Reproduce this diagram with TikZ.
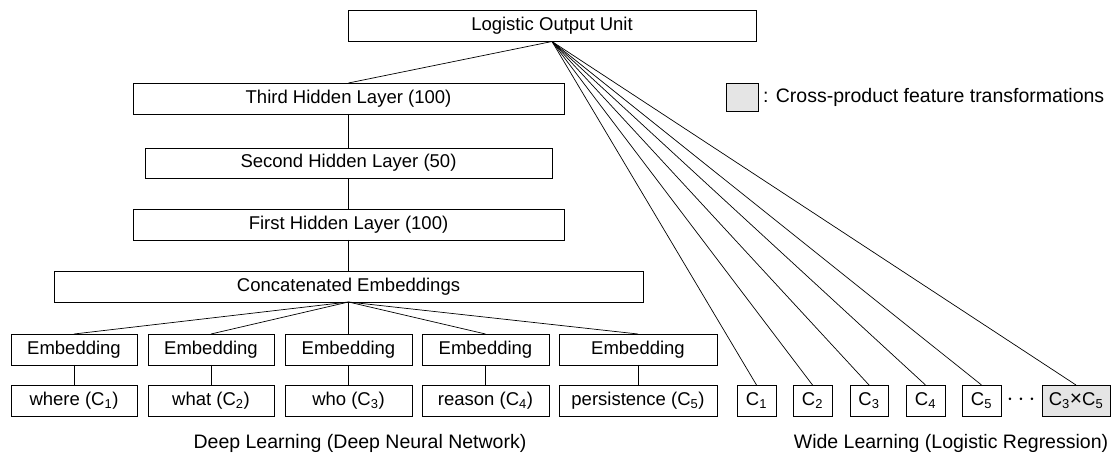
\documentclass[tikz,border=0pt]{standalone}
\usepackage{fontspec}
\setmainfont{Liberation Sans}
\newcommand{\boxfont}{\fontsize{18.5bp}{22bp}\selectfont}
\newcommand{\labfont}{\fontsize{19.5bp}{23bp}\selectfont}
\begin{document}
\begin{tikzpicture}[x=1bp,y=-1bp,
  box/.style={draw, line width=0.8bp, inner sep=0pt, outer sep=0pt, minimum height=31bp, font=\boxfont},
  crossbox/.style={box, fill=black!10},
  conn/.style={line width=0.7bp},
  lab/.style={inner sep=0pt, font=\labfont}
]
\useasboundingbox (0,0) rectangle (1115,461);
% deep part
\node[box, minimum width=408bp] (out) at (552,26) {Logistic Output Unit};
\node[box, minimum width=431bp] (third) at (348.5,98.5) {Third Hidden Layer (100)};
\node[box, minimum width=407bp, minimum height=30bp] (second) at (348.5,163) {Second Hidden Layer (50)};
\node[box, minimum width=431bp] (first) at (348.5,224.5) {First Hidden Layer (100)};
\node[box, minimum width=589bp] (concat) at (348.5,286.5) {Concatenated Embeddings};
% embeddings
\node[box, minimum width=126bp] (e1) at (74,349.5) {Embedding};
\node[box, minimum width=126bp] (e2) at (211,349.5) {Embedding};
\node[box, minimum width=127bp] (e3) at (348.5,349.5) {Embedding};
\node[box, minimum width=127bp] (e4) at (485.5,349.5) {Embedding};
\node[box, minimum width=158bp] (e5) at (638,349.5) {Embedding};
% inputs
\node[box, minimum width=126bp] (b1) at (74,400.5) {where (C\textsubscript{1})};
\node[box, minimum width=126bp] (b2) at (211,400.5) {what (C\textsubscript{2})};
\node[box, minimum width=127bp] (b3) at (348.5,400.5) {who (C\textsubscript{3})};
\node[box, minimum width=127bp] (b4) at (485.5,400.5) {reason (C\textsubscript{4})};
\node[box, minimum width=158bp] (b5) at (638,400.5) {persistence (C\textsubscript{5})};
% wide part
\node[box, minimum width=39bp] (w1) at (756.5,400.5) {C\textsubscript{1}};
\node[box, minimum width=39bp] (w2) at (812.5,400.5) {C\textsubscript{2}};
\node[box, minimum width=38bp] (w3) at (869,400.5) {C\textsubscript{3}};
\node[box, minimum width=39bp] (w4) at (925.5,400.5) {C\textsubscript{4}};
\node[box, minimum width=39bp] (w5) at (981.5,400.5) {C\textsubscript{5}};
\node[inner sep=0pt, font=\fontsize{24bp}{28bp}\selectfont] (dots) at (1021,400) {$\cdots$};
\node[crossbox, minimum width=68bp] (w6) at (1076,400.5) {C\textsubscript{3}{\fontsize{21bp}{22bp}\selectfont ×}C\textsubscript{5}};
% legend
\node[crossbox, minimum width=32bp, minimum height=28bp] (leg) at (742,97.5) {};
\node[lab, anchor=west] (legtext) at (763,97.5) {: Cross-product feature transformations};
% labels
\node[lab, anchor=base] (deeplab) at (360,448) {Deep Learning (Deep Neural Network)};
\node[lab, anchor=base] (widelab) at (951,448) {Wide Learning (Logistic Regression)};
% connectors
\draw[conn] (out.south) -- (third.north);
\draw[conn] (third.south) -- (second.north);
\draw[conn] (second.south) -- (first.north);
\draw[conn] (first.south) -- (concat.north);
\foreach \i in {1,...,5} {
  \draw[conn] (concat.south) -- (e\i.north);
  \draw[conn] (e\i.south) -- (b\i.north);
}
\foreach \i in {1,...,6} {
  \draw[conn] (out.south) -- (w\i.north);
}
\end{tikzpicture}
\end{document}
